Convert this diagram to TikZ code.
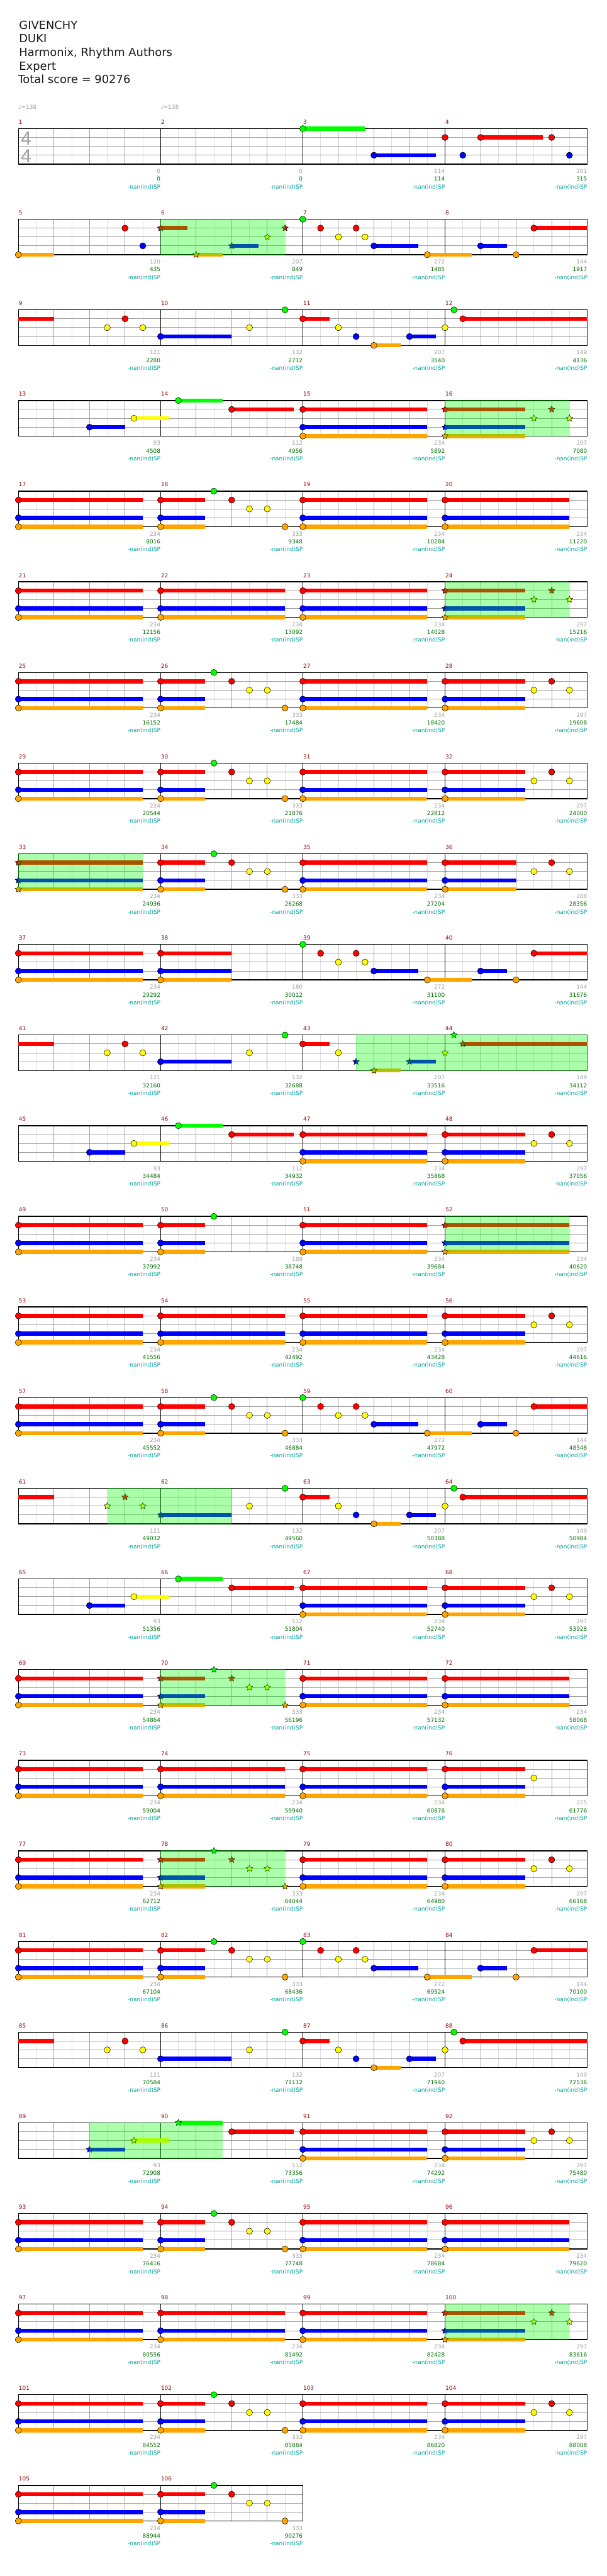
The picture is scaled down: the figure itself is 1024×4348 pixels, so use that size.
\documentclass[tikz,border=0pt]{standalone}
\usepackage{fontspec}
\setmainfont{DejaVu Sans}
\newfontfamily\sigfont{Liberation Sans}
\usetikzlibrary{shapes.geometric}

\definecolor{lane0}{RGB}{0,255,0}
\definecolor{lane1}{RGB}{255,0,0}
\definecolor{lane2}{RGB}{255,255,0}
\definecolor{lane3}{RGB}{0,0,255}
\definecolor{lane4}{RGB}{255,165,0}
\definecolor{eighthgray}{RGB}{224,224,224}
\definecolor{beatgray}{RGB}{160,160,160}
\definecolor{barred}{RGB}{150,0,0}
\definecolor{gaingray}{RGB}{160,160,160}
\definecolor{totalgreen}{RGB}{0,110,0}
\definecolor{spteal}{RGB}{0,160,160}

% sixteenth #2 of bar #1 on lane #3 -> (\gx,\gy)
\newcommand\gemxy[3]{%
  \pgfmathsetmacro\gx{31+240*mod(#1-1,4)+15*(#2)}%
  \pgfmathsetmacro\gy{217+153*floor((#1-1)/4)+15*(#3)}}
% pass 1: sustains, pass 2: star power, pass 3: gems
\def\pass{3}
\newcommand\gemN[3]{\ifnum\pass=3 \gemxy{#1}{#2}{#3}%
  \node[gem, fill=lane#3] at (\gx,\gy) {};\fi}
\newcommand\gemS[3]{\ifnum\pass=3 \gemxy{#1}{#2}{#3}%
  \node[spgem, fill=lane#3] at (\gx,\gy) {};\fi}
\newcommand\gemL[4]{\ifnum\pass=1 \gemxy{#1}{#3}{#4}\let\gxb\gx\gemxy{#1}{#2}{#4}%
  \fill[lane#4] (\gx,\gy-3.4) rectangle (\gxb,\gy+3.4);\fi}
\newcommand\spArea[3]{\ifnum\pass=2 \gemxy{#1}{#3}{0}\let\gxb\gx\gemxy{#1}{#2}{0}%
  \fill[spzone] (\gx,\gy-0.7) rectangle (\gxb,\gy+60.7);\fi}
% red + blue + orange chord held for #2 sixteenths
\newcommand\holdRBO[2]{\gemL{#1}{0}{#2}{1}\gemL{#1}{0}{#2}{3}\gemL{#1}{0}{#2}{4}%
  \gemN{#1}{0}{1}\gemN{#1}{0}{3}\gemN{#1}{0}{4}}
\newcommand\holdRBOs[2]{\gemL{#1}{0}{#2}{1}\gemL{#1}{0}{#2}{3}\gemL{#1}{0}{#2}{4}%
  \gemS{#1}{0}{1}\gemS{#1}{0}{3}\gemS{#1}{0}{4}}
\newcommand\runA[1]{\gemN{#1}{6}{0}\gemN{#1}{8}{1}\gemN{#1}{10}{2}\gemN{#1}{12}{2}\gemN{#1}{14}{4}}
\newcommand\runAs[1]{\gemS{#1}{6}{0}\gemS{#1}{8}{1}\gemS{#1}{10}{2}\gemS{#1}{12}{2}\gemS{#1}{14}{4}}
\newcommand\tailA[1]{\gemN{#1}{10}{2}\gemN{#1}{12}{1}\gemN{#1}{14}{2}}
\newcommand\tailAs[1]{\gemS{#1}{10}{2}\gemS{#1}{12}{1}\gemS{#1}{14}{2}}

\begin{document}
\begin{tikzpicture}[x=0.75pt, y=-0.75pt,
  gem/.style={circle, draw=black, line width=0.4pt, inner sep=0pt, minimum size=7.9pt},
  spgem/.style={star, star points=5, star point ratio=2.1, draw=black, line width=0.4pt, inner sep=0pt, minimum size=8.6pt},
  spzone/.style={fill=green, fill opacity=0.33},
  eighthline/.style={eighthgray, line width=0.75pt},
  beatline/.style={beatgray, line width=0.75pt},
  barline/.style={black, line width=0.75pt},
  staffframe/.style={draw=black, line width=1.1pt},
  title/.style={font=\fontsize{14.25}{17}\selectfont, anchor=base west, inner sep=0pt, text=black!90},
  tempo/.style={font=\fontsize{7.1}{8.5}\selectfont, anchor=base west, inner sep=0pt, text=gaingray},
  timesig/.style={font=\sigfont\fontsize{24}{24}\selectfont, anchor=base west, inner sep=0pt, text=gaingray},
  barno/.style={font=\fontsize{7.1}{8.5}\selectfont, anchor=base west, inner sep=0pt, text=barred},
  gain/.style={font=\fontsize{7.1}{8.5}\selectfont, anchor=base east, inner sep=0pt, text=gaingray},
  total/.style={font=\fontsize{7.1}{8.5}\selectfont, anchor=base east, inner sep=0pt, text=totalgreen},
  spval/.style={font=\fontsize{7.1}{8.5}\selectfont, anchor=base east, inner sep=0pt, text=spteal},
]
\useasboundingbox (0,0) rectangle (1024,4348);
\fill[white] (0,0) rectangle (1024,4348);

% header
\node[title] (song)    at (32,49)    {GIVENCHY};
\node[title] (artist)  at (32,71.7)  {DUKI};
\node[title] (charter) at (32,95)    {Harmonix, Rhythm Authors};
\node[title] (level)   at (32,118.3) {Expert};
\node[title] (score)   at (30,141)   {Total score = 90276};
\node[tempo] (bpm1) at (31,184)  {♩=138};
\node[tempo] (bpm2) at (271,184) {♩=138};

% staves, four bars a row
\foreach \r in {0,...,26}{
  \pgfmathsetmacro\rowtop{217+153*\r}
  \ifnum\r<26 \def\rowlen{32}\else\def\rowlen{16}\fi
  \pgfmathsetmacro\rowend{31+30*\rowlen}
  \foreach \k in {1,3,...,\rowlen}
    \draw[eighthline] (31+30*\k,\rowtop) -- (31+30*\k,\rowtop+60);
  \foreach \k in {2,4,...,\rowlen}
    \draw[beatline] (31+30*\k,\rowtop) -- (31+30*\k,\rowtop+60);
  \foreach \j in {1,2,3}
    \draw[beatline] (31,\rowtop+15*\j) -- (\rowend,\rowtop+15*\j);
  \foreach \k in {8,16,...,\rowlen}
    \draw[barline] (31+30*\k,\rowtop) -- (31+30*\k,\rowtop+60);
  \draw[staffframe] (31,\rowtop) rectangle (\rowend,\rowtop+60);
}
\node[timesig] (ts1) at (35,245) {4};
\node[timesig] (ts2) at (35,274) {4};

% sustains, then gems, then the star power wash over them
\foreach \pass in {1,3,2}{
% bars 3-6
\gemL{3}{0}{7}{0}\gemN{3}{0}{0}
\gemL{3}{8}{15}{3}\gemN{3}{8}{3}
\gemN{4}{0}{1}\gemN{4}{2}{3}
\gemL{4}{4}{11}{1}\gemN{4}{4}{1}
\gemN{4}{12}{1}\gemN{4}{14}{3}
\gemL{5}{0}{4}{4}\gemN{5}{0}{4}
\gemN{5}{12}{1}\gemN{5}{14}{3}
\spArea{6}{0}{14}
\gemL{6}{0}{3}{1}\gemS{6}{0}{1}
\gemL{6}{4}{7}{4}\gemS{6}{4}{4}
\gemL{6}{8}{11}{3}\gemS{6}{8}{3}
\gemS{6}{12}{2}\gemS{6}{14}{1}

% the verse riff
\foreach \m in {7,39,59,83}{
  \gemN{\m}{0}{0}\gemN{\m}{2}{1}\gemN{\m}{4}{2}\gemN{\m}{6}{1}\gemN{\m}{7}{2}
  \gemL{\m}{8}{13}{3}\gemN{\m}{8}{3}
  \gemL{\m}{14}{19}{4}\gemN{\m}{14}{4}}
\foreach \m in {8,40,60,84}{
  \gemL{\m}{4}{7}{3}\gemN{\m}{4}{3}\gemN{\m}{8}{4}
  \gemL{\m}{10}{16}{1}\gemN{\m}{10}{1}}
\foreach \m in {9,41,85}{
  \gemL{\m}{0}{4}{1}\tailA{\m}}
\foreach \m in {10,42,86}{
  \gemL{\m}{0}{8}{3}\gemN{\m}{0}{3}\gemN{\m}{10}{2}\gemN{\m}{14}{0}}
\foreach \m in {11,63,87}{
  \gemL{\m}{0}{3}{1}\gemN{\m}{0}{1}\gemN{\m}{4}{2}\gemN{\m}{6}{3}
  \gemL{\m}{8}{11}{4}\gemN{\m}{8}{4}
  \gemL{\m}{12}{15}{3}\gemN{\m}{12}{3}}
\foreach \m in {12,64,88}{
  \gemN{\m}{0}{2}\gemN{\m}{1}{0}\gemL{\m}{2}{16}{1}\gemN{\m}{2}{1}}
\foreach \m in {13,45,65}{
  \gemL{\m}{8}{12}{3}\gemN{\m}{8}{3}\gemL{\m}{13}{17}{2}\gemN{\m}{13}{2}}
\foreach \m in {14,46,66}{
  \gemL{\m}{2}{7}{0}\gemN{\m}{2}{0}\gemL{\m}{8}{15}{1}\gemN{\m}{8}{1}}

% held chords
\foreach \m in {15,17,19,20,21,22,23,25,27,29,31,35,37,47,49,51,53,54,55,57,
                67,69,71,72,73,74,75,77,79,81,91,93,95,96,97,98,99,101,103,105}
  {\holdRBO{\m}{14}}
\foreach \m in {18,26,30,34,58,82,94,102,106}
  {\holdRBO{\m}{5}\runA{\m}}
\foreach \m in {28,32,48,56,68,80,92,104}
  {\holdRBO{\m}{9}\tailA{\m}}
\holdRBO{36}{8}\tailA{36}
\holdRBO{38}{8}
\holdRBO{50}{5}\gemN{50}{6}{0}
\holdRBO{76}{9}\gemN{76}{10}{2}

% star power phrases
\foreach \m in {16,24,100}
  {\spArea{\m}{0}{14}\holdRBOs{\m}{9}\tailAs{\m}}
\foreach \m in {33,52}
  {\spArea{\m}{0}{14}\holdRBOs{\m}{14}}
\foreach \m in {70,78}
  {\spArea{\m}{0}{14}\holdRBOs{\m}{5}\runAs{\m}}
\spArea{43}{6}{32}
\gemL{43}{0}{3}{1}\gemN{43}{0}{1}\gemN{43}{4}{2}\gemS{43}{6}{3}
\gemL{43}{8}{11}{4}\gemS{43}{8}{4}
\gemL{43}{12}{15}{3}\gemS{43}{12}{3}
\gemS{44}{0}{2}\gemS{44}{1}{0}\gemL{44}{2}{16}{1}\gemS{44}{2}{1}
\spArea{61}{10}{24}
\gemL{61}{0}{4}{1}\tailAs{61}
\gemL{62}{0}{8}{3}\gemS{62}{0}{3}\gemN{62}{10}{2}\gemN{62}{14}{0}
\spArea{89}{8}{23}
\gemL{89}{8}{12}{3}\gemS{89}{8}{3}
\gemL{89}{13}{17}{2}\gemS{89}{13}{2}
\gemL{90}{2}{7}{0}\gemS{90}{2}{0}
\gemL{90}{8}{15}{1}\gemN{90}{8}{1}
}

% bar numbers and running scores
\foreach \m/\g/\s in {1/0/0,2/0/0,3/114/114,4/201/315,
  5/120/435,6/207/849,7/272/1485,8/144/1917,
  9/121/2280,10/132/2712,11/207/3540,12/149/4136,
  13/93/4508,14/112/4956,15/234/5892,16/297/7080,
  17/234/8016,18/333/9348,19/234/10284,20/234/11220,
  21/234/12156,22/234/13092,23/234/14028,24/297/15216,
  25/234/16152,26/333/17484,27/234/18420,28/297/19608,
  29/234/20544,30/333/21876,31/234/22812,32/297/24000,
  33/234/24936,34/333/26268,35/234/27204,36/288/28356,
  37/234/29292,38/180/30012,39/272/31100,40/144/31676,
  41/121/32160,42/132/32688,43/207/33516,44/149/34112,
  45/93/34484,46/112/34932,47/234/35868,48/297/37056,
  49/234/37992,50/189/38748,51/234/39684,52/234/40620,
  53/234/41556,54/234/42492,55/234/43428,56/297/44616,
  57/234/45552,58/333/46884,59/272/47972,60/144/48548,
  61/121/49032,62/132/49560,63/207/50388,64/149/50984,
  65/93/51356,66/112/51804,67/234/52740,68/297/53928,
  69/234/54864,70/333/56196,71/234/57132,72/234/58068,
  73/234/59004,74/234/59940,75/234/60876,76/225/61776,
  77/234/62712,78/333/64044,79/234/64980,80/297/66168,
  81/234/67104,82/333/68436,83/272/69524,84/144/70100,
  85/121/70584,86/132/71112,87/207/71940,88/149/72536,
  89/93/72908,90/112/73356,91/234/74292,92/297/75480,
  93/234/76416,94/333/77748,95/234/78684,96/234/79620,
  97/234/80556,98/234/81492,99/234/82428,100/297/83616,
  101/234/84552,102/333/85884,103/234/86820,104/297/88008,
  105/234/88944,106/333/90276}{
  \pgfmathsetmacro\bx{31+240*mod(\m-1,4)}
  \pgfmathsetmacro\by{217+153*floor((\m-1)/4)}
  \node[barno] (n\m) at (\bx+0.5,\by-7.5) {\m};
  \node[gain]  (g\m) at (\bx+240,\by+75.5) {\g};
  \node[total] (s\m) at (\bx+240,\by+88.5) {\s};
  \node[spval] (p\m) at (\bx+240,\by+101.5) {-nan(ind)SP};
}
\end{tikzpicture}
\end{document}
